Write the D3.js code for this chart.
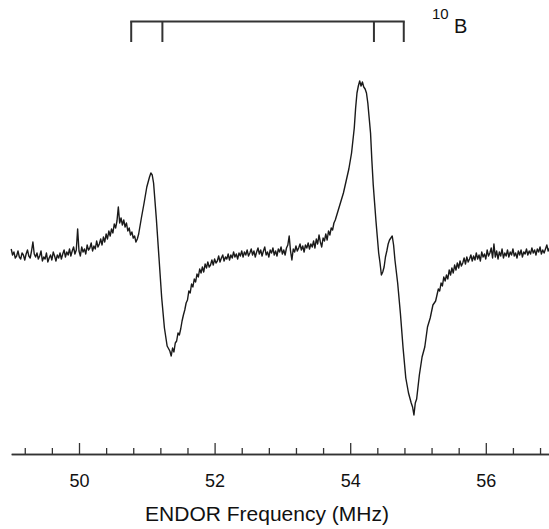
<!DOCTYPE html>
<html>
<head>
<meta charset="utf-8">
<script src="https://cdn.jsdelivr.net/npm/d3@7"></script>
<style>
  body { margin: 0; background: #fff; }
  svg { display: block; font-family: "Liberation Sans", Arial, sans-serif; }
</style>
</head>
<body>
<svg id="drawing_region"></svg>
<script>
// ENDOR spectrum: [frequency (MHz), signal (a.u.)]
const spectrum = [
  [49.00, 4], [49.02, -2], [49.04, 1], [49.06, -5], [49.08, -3], [49.10, 2], [49.12, -4], [49.14, -6],
  [49.16, 0], [49.18, -2], [49.20, -7], [49.22, -1], [49.24, 3], [49.26, -3], [49.28, -5], [49.30, 2],
  [49.32, 11], [49.34, -1], [49.36, -4], [49.38, 0], [49.40, -6], [49.42, -3], [49.44, 2], [49.46, -8],
  [49.48, -4], [49.50, -6], [49.52, 0], [49.54, -9], [49.56, -5], [49.58, -2], [49.60, -7], [49.62, 1],
  [49.64, -3], [49.66, -8], [49.68, -2], [49.70, -5], [49.72, 0], [49.74, -6], [49.76, -1], [49.78, 3],
  [49.80, -4], [49.82, 1], [49.84, -2], [49.86, 4], [49.88, -3], [49.90, 2], [49.92, 6], [49.94, -1],
  [49.96, 3], [49.98, 24], [50.00, 2], [50.02, -3], [50.04, 6], [50.06, 1], [50.08, 4], [50.10, -1],
  [50.12, 8], [50.14, 3], [50.16, 5], [50.18, 10], [50.20, 2], [50.22, 7], [50.24, 4], [50.26, 12],
  [50.28, 6], [50.30, 9], [50.32, 14], [50.34, 8], [50.36, 16], [50.38, 11], [50.40, 19], [50.42, 14],
  [50.44, 22], [50.46, 17], [50.48, 24], [50.50, 20], [50.52, 29], [50.54, 25], [50.56, 32], [50.58, 46],
  [50.60, 30], [50.62, 35], [50.64, 28], [50.66, 33], [50.68, 26], [50.70, 30], [50.72, 22], [50.74, 25],
  [50.76, 18], [50.78, 21], [50.80, 15], [50.82, 17], [50.84, 11], [50.86, 14], [50.88, 19], [50.92, 35],
  [50.96, 50], [51.00, 66], [51.04, 76], [51.06, 80], [51.08, 78], [51.10, 70], [51.14, 35], [51.18, -5],
  [51.22, -45], [51.26, -75], [51.30, -93], [51.34, -98], [51.36, -103], [51.38, -95], [51.40, -99], [51.42, -90],
  [51.44, -88], [51.46, -80], [51.48, -82],
  [51.50, -76], [51.52, -68], [51.54, -62], [51.56, -57], [51.58, -50], [51.60, -47], [51.62, -38], [51.64, -40],
  [51.66, -31], [51.68, -34], [51.70, -26], [51.72, -29], [51.74, -21], [51.76, -24], [51.78, -16], [51.80, -20],
  [51.82, -14], [51.84, -19], [51.86, -11], [51.88, -15], [51.90, -9], [51.92, -14], [51.94, -12], [51.96, -7],
  [51.98, -12], [52.00, -6], [52.02, -10], [52.04, -8], [52.06, -3], [52.08, -9], [52.10, -5], [52.12, -2],
  [52.14, -8], [52.16, -4], [52.18, -6], [52.20, -1], [52.22, -7], [52.24, -2], [52.26, -5], [52.28, 1],
  [52.30, -4], [52.32, -1], [52.34, -6], [52.36, 0], [52.38, -3], [52.40, 2], [52.42, -4], [52.44, 1],
  [52.46, -2], [52.48, 3], [52.50, -3], [52.52, 0], [52.54, 4], [52.56, -2], [52.58, 2], [52.60, -4],
  [52.62, 1], [52.64, 5], [52.66, -1], [52.68, 3], [52.70, -3], [52.72, 2], [52.74, 6], [52.76, -2],
  [52.78, 1], [52.80, -4], [52.82, 3], [52.84, 0], [52.86, 5], [52.88, -2], [52.90, 2], [52.92, -3],
  [52.94, 4], [52.96, 1], [52.98, 6], [53.00, -1], [53.02, 3], [53.04, -2], [53.06, 5], [53.08, 8],
  [53.10, 17], [53.12, 2], [53.14, -7], [53.16, 4], [53.18, 1], [53.20, 7], [53.22, 2], [53.24, 5],
  [53.26, 9], [53.28, 3], [53.30, 7], [53.32, 1], [53.34, 8], [53.36, 5], [53.38, 10], [53.40, 4],
  [53.42, 9], [53.44, 6], [53.46, 12], [53.48, 5], [53.50, 14], [53.52, 9], [53.54, 18], [53.56, 11],
  [53.58, 6], [53.60, 15], [53.62, 12], [53.64, 19], [53.66, 13], [53.68, 22], [53.70, 18], [53.72, 25],
  [53.74, 23], [53.76, 30], [53.78, 33], [53.82, 42], [53.86, 51], [53.90, 60],
  [53.94, 72], [53.98, 84], [54.02, 100], [54.06, 125], [54.08, 145], [54.10, 160], [54.12, 167], [54.14, 172],
  [54.16, 167], [54.18, 171], [54.20, 166], [54.22, 164], [54.24, 160], [54.26, 150], [54.28, 135], [54.30, 120],
  [54.32, 92], [54.34, 68], [54.36, 50], [54.38, 32], [54.40, 16], [54.42, 0], [54.44, -10], [54.46, -22],
  [54.48, -19], [54.50, -14], [54.52, -4], [54.54, 2], [54.56, 9], [54.58, 13], [54.60, 15], [54.62, 17],
  [54.64, 8], [54.66, -7], [54.70, -30], [54.74, -60], [54.78, -95], [54.82, -125], [54.86, -140], [54.90, -150],
  [54.92, -154], [54.94, -162], [54.96, -150], [54.98, -146], [55.02, -122], [55.06, -104], [55.10, -94], [55.14, -74],
  [55.18, -65], [55.22, -52], [55.26, -48],
  [55.30, -36], [55.32, -38], [55.34, -30], [55.36, -33], [55.38, -24], [55.40, -28], [55.42, -22], [55.44, -26],
  [55.46, -17], [55.48, -22], [55.50, -15], [55.52, -20], [55.54, -12], [55.56, -17], [55.58, -10], [55.60, -15],
  [55.62, -8], [55.64, -13], [55.66, -10], [55.68, -5], [55.70, -11], [55.72, -4], [55.74, -9], [55.76, -6],
  [55.78, -2], [55.80, -8], [55.82, -3], [55.84, -7], [55.86, 0], [55.88, -6], [55.90, -2], [55.92, -8],
  [55.94, 1], [55.96, -4], [55.98, -1], [56.00, -6], [56.02, 3], [56.04, -3], [56.06, 0], [56.08, 5],
  [56.10, -5], [56.12, 9], [56.14, -4], [56.16, 2], [56.18, -6], [56.20, 1], [56.22, -3], [56.24, 4],
  [56.26, -5], [56.28, 0], [56.30, -3], [56.32, 3], [56.34, -4], [56.36, 1], [56.38, -2], [56.40, 4],
  [56.42, -3], [56.44, 0], [56.46, -5], [56.48, 2], [56.50, -2], [56.52, 3], [56.54, -4], [56.56, 1],
  [56.58, -1], [56.60, 4], [56.62, -2], [56.64, 2], [56.66, -1], [56.68, 5], [56.70, 0], [56.72, 3],
  [56.74, -2], [56.76, 4], [56.78, 1], [56.80, 6], [56.82, -1], [56.84, 3], [56.86, 0], [56.88, 4],
  [56.90, 8], [56.92, 2], [56.94, 5]
];

// 10B stick diagram positions (MHz)
const sticks = [50.77, 51.23, 54.35, 54.79];

const majorTicks = [50, 52, 54, 56];
const minorTicks = [49.2, 49.6, 50.4, 50.8, 51.2, 51.6, 52.4, 52.8, 53.2, 53.6,
                    54.4, 54.8, 55.2, 55.6, 56.4, 56.8];

const width = 549, height = 529;
const axisY = 454;

const svg = d3.select('#drawing_region')
    .attr('width', width)
    .attr('height', height);

const xscale = d3.scaleLinear()
    .domain([49, 57])
    .range([11.2, 553.6]);

const yscale = d3.scaleLinear()
    .domain([-200, 200])
    .range([453, 53]);

// spectrum trace
const line = d3.line()
    .x(d => xscale(d[0]))
    .y(d => yscale(d[1]));

svg.append('path')
    .attr('d', line(spectrum))
    .attr('fill', 'none')
    .attr('stroke', '#1a1a1a')
    .attr('stroke-width', 1.4)
    .attr('stroke-linejoin', 'round');

// stick diagram on top
const stickTop = 21.5, stickBottom = 42;
const stickGroup = svg.append('g')
    .attr('stroke', '#333')
    .attr('stroke-width', 2);

stickGroup.append('line')
    .attr('x1', xscale(d3.min(sticks)) - 1)
    .attr('x2', xscale(d3.max(sticks)) + 1)
    .attr('y1', stickTop)
    .attr('y2', stickTop);

stickGroup.selectAll('.stick')
    .data(sticks)
    .join('line')
    .attr('class', 'stick')
    .attr('x1', d => xscale(d))
    .attr('x2', d => xscale(d))
    .attr('y1', stickTop)
    .attr('y2', stickBottom);

svg.append('text')
    .attr('x', 432)
    .attr('y', 19)
    .attr('font-size', 15)
    .attr('fill', '#111')
    .text('10');
svg.append('text')
    .attr('x', 454)
    .attr('y', 33)
    .attr('font-size', 20)
    .attr('fill', '#111')
    .text('B');

// bottom axis: minor then major ticks, pointing up
const minorAxis = d3.axisBottom(xscale)
    .tickValues(minorTicks)
    .tickSize(-6)
    .tickSizeOuter(0)
    .tickFormat('');

const majorAxis = d3.axisBottom(xscale)
    .tickValues(majorTicks)
    .tickSize(-11)
    .tickSizeOuter(0)
    .tickPadding(20)
    .tickFormat(d3.format('d'));

const minorGroup = svg.append('g')
    .attr('transform', `translate(0, ${axisY})`)
    .call(minorAxis);

const majorGroup = svg.append('g')
    .attr('transform', `translate(0, ${axisY})`)
    .call(majorAxis);

svg.selectAll('.domain, .tick line')
    .attr('stroke', '#333')
    .attr('stroke-width', 1.3);

majorGroup.selectAll('text')
    .attr('font-size', 18)
    .attr('font-family', '"Liberation Sans", Arial, sans-serif')
    .attr('fill', '#111');

svg.append('text')
    .attr('x', 267)
    .attr('y', 521)
    .attr('text-anchor', 'middle')
    .attr('font-size', 21)
    .attr('fill', '#111')
    .text('ENDOR Frequency (MHz)');
</script>
</body>
</html>
